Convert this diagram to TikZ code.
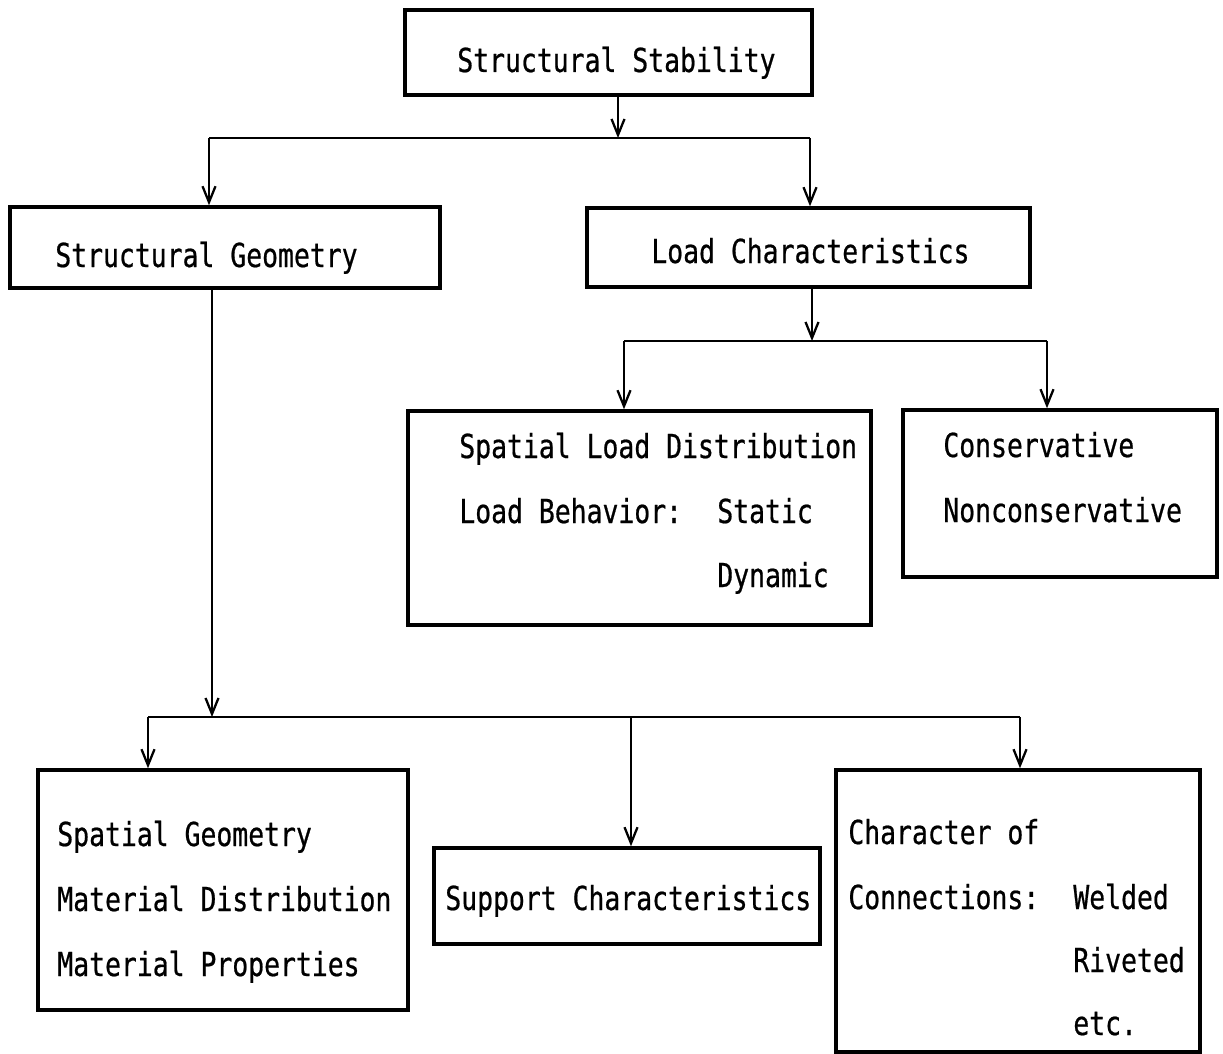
\documentclass[tikz,border=0pt]{standalone}
\usepackage{fontspec}
\usepackage{tikz}
\usetikzlibrary{arrows.meta,positioning,calc}
\newfontfamily\tw[FakeStretch=0.8,FakeBold=0.6]{DejaVu Sans Mono}

\begin{document}
\begin{tikzpicture}[x=0.02cm,y=-0.02cm,
  mybox/.style={draw,rectangle,line width=2pt,inner sep=0pt},
  mytext/.style={anchor=base west,inner sep=0pt,font=\tw\fontsize{18.8}{22}\selectfont},
  myline/.style={line width=1.4pt},
  myarrow/.style={line width=1.4pt,-{Straight Barb[length=3.2mm,width=2.6mm,line width=1.3pt]}},
 ]
\useasboundingbox (0,0) rectangle (1223,1054);

% boxes
\node[mybox, minimum width=8.14cm, minimum height=1.70cm] (SS) at (608.5,52.5) {};
\node[mybox, minimum width=8.60cm, minimum height=1.62cm] (SG) at (225,247.5) {};
\node[mybox, minimum width=8.86cm, minimum height=1.58cm] (LC) at (808.5,247.5) {};
\node[mybox, minimum width=9.26cm, minimum height=4.28cm] (SLD) at (639.5,518) {};
\node[mybox, minimum width=6.28cm, minimum height=3.34cm] (CN) at (1060,493.5) {};
\node[mybox, minimum width=7.40cm, minimum height=4.80cm] (SGM) at (223,890) {};
\node[mybox, minimum width=7.72cm, minimum height=1.92cm] (SC) at (627,896) {};
\node[mybox, minimum width=7.28cm, minimum height=5.64cm] (CC) at (1018,911) {};

% texts
\node[mytext] (tSS) at (457,72) {Structural Stability};
\node[mytext] (tSG) at (55,267) {Structural Geometry};
\node[mytext] (tLC) at (651,263) {Load Characteristics};
\node[mytext] (tSLD1) at (459,458) {Spatial Load Distribution};
\node[mytext] (tSLD2) at (459,523) {Load Behavior:};
\node[mytext] (tSLD3) at (717,523) {Static};
\node[mytext] (tSLD4) at (717,587) {Dynamic};
\node[mytext] (tCN1) at (943,457) {Conservative};
\node[mytext] (tCN2) at (943,522) {Nonconservative};
\node[mytext] (tSGM1) at (57,846) {Spatial Geometry};
\node[mytext] (tSGM2) at (57,911) {Material Distribution};
\node[mytext] (tSGM3) at (57,976) {Material Properties};
\node[mytext] (tSC) at (445,910) {Support Characteristics};
\node[mytext] (tCC1) at (848,844) {Character of};
\node[mytext] (tCC2) at (848,909) {Connections:};
\node[mytext] (tCC3) at (1073,909) {Welded};
\node[mytext] (tCC4) at (1073,972) {Riveted};
\node[mytext] (tCC5) at (1073,1035) {etc.};

% junctions
\coordinate (j1) at (618,138);
\coordinate (j1l) at (209,138);
\coordinate (j1r) at (810,138);
\coordinate (j2) at (812,341);
\coordinate (j2l) at (624,341);
\coordinate (j2r) at (1047,341);
\coordinate (j3) at (212,717);
\coordinate (j3l) at (148,717);
\coordinate (j3m) at (631,717);
\coordinate (j3r) at (1020,717);

% connectors
\draw[myarrow] (SS.south -| j1) -- (j1);
\draw[myline] (j1l) -- (j1r);
\draw[myarrow] (j1l) -- (j1l |- SG.north);
\draw[myarrow] (j1r) -- (j1r |- LC.north);

\draw[myarrow] (LC.south -| j2) -- (j2);
\draw[myline] (j2l) -- (j2r);
\draw[myarrow] (j2l) -- (j2l |- SLD.north);
\draw[myarrow] (j2r) -- (j2r |- CN.north);

\draw[myarrow] (SG.south -| j3) -- (j3);
\draw[myline] (j3l) -- (j3r);
\draw[myarrow] (j3l) -- (j3l |- SGM.north);
\draw[myarrow] (j3m) -- (j3m |- SC.north);
\draw[myarrow] (j3r) -- (j3r |- CC.north);

\end{tikzpicture}
\end{document}
